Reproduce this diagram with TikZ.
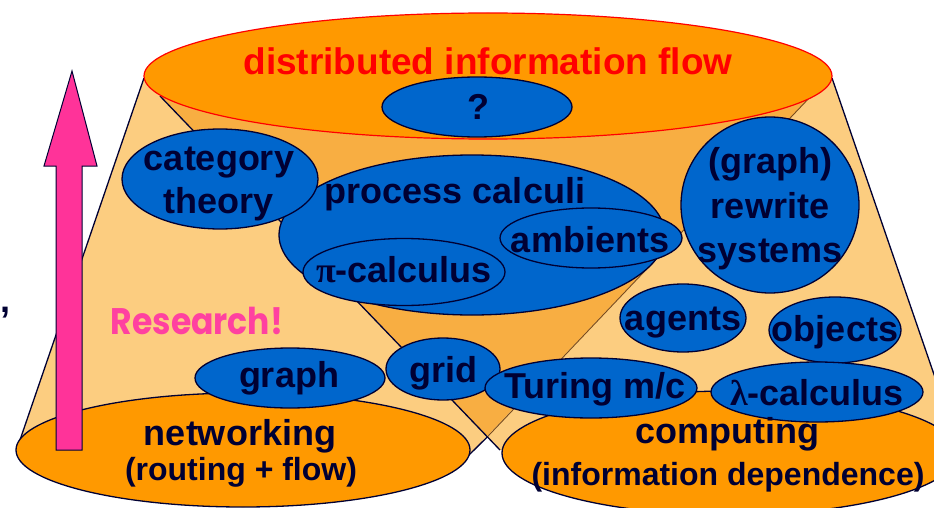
\documentclass[tikz,border=0pt]{standalone}
\usepackage{fontspec}
\setmainfont{Liberation Sans}
\newfontfamily\resfont{Poppins}
\newfontfamily\grkfont{Liberation Serif}
\usetikzlibrary{shapes.geometric}
\definecolor{navy}{RGB}{0,0,51}
\definecolor{myblue}{RGB}{0,102,204}
\definecolor{myorange}{RGB}{255,153,0}
\definecolor{conelight}{RGB}{252,205,128}
\definecolor{conedark}{RGB}{248,174,66}
\definecolor{faintedge}{RGB}{120,75,30}
\definecolor{mypink}{RGB}{255,51,153}
\definecolor{respink}{RGB}{255,65,160}
\tikzset{
  blob/.style={ellipse, draw=navy, line width=1.3pt, fill=myblue, inner sep=0pt, outer sep=0pt},
  base/.style={ellipse, draw=navy, line width=1.3pt, fill=myorange, inner sep=0pt, outer sep=0pt},
  coneedge/.style={draw=navy, line width=1.3pt},
  lbl/.style={anchor=base, text=navy, inner sep=0pt, font=\bfseries\fontsize{36}{40}\selectfont},
  sublbl/.style={anchor=base, text=navy, inner sep=0pt, font=\bfseries\fontsize{32}{36}\selectfont},
}
\begin{document}
\begin{tikzpicture}[x=1pt,y=-1pt]
\useasboundingbox (0,0) rectangle (934,508);
\clip (0,0) rectangle (934,508);
% cones
\fill[conelight] (144,78) -- (20,440) -- (243,450) -- (466,458) -- (812,95) -- (488,76) -- cycle;
\fill[conelight] (160,96) -- (500,450) -- (730,453) -- (960,450) -- (832,78) -- (488,76) -- cycle;
\begin{scope}
  \clip (144,78) -- (20,440) -- (243,450) -- (466,458) -- (812,95) -- (488,76) -- cycle;
  \fill[conedark] (160,96) -- (500,450) -- (730,453) -- (960,450) -- (832,78) -- (488,76) -- cycle;
\end{scope}
\coordinate (X) at (487.2,437);
\draw[coneedge] (144,78) -- (20,440);
\draw[faintedge, line width=0.9pt] (812,95) -- (X);
\draw[coneedge] (X) -- (466,458);
\draw[coneedge] (160,96) -- (500,450);
\draw[coneedge] (832,78) -- (960,450);
% top ellipse
\node[ellipse, draw=red, line width=1.2pt, fill=myorange, inner sep=0pt, minimum width=688pt, minimum height=126pt] (top) at (488,76) {};
% bottom ellipses
\node[base, minimum width=454pt, minimum height=114pt] (net) at (243,450) {};
\node[base, minimum width=456pt, minimum height=124pt] (comp) at (730,453) {};
% arrow
\draw[fill=mypink, draw=navy, line width=1pt] (56,450) -- (56,166) -- (44,166) -- (72,71) -- (97,166) -- (82,166) -- (82,450) -- cycle;
% blue ellipses
\node[blob, minimum width=386pt, minimum height=160pt] (proc) at (472,235) {};
\node[blob, minimum width=196pt, minimum height=100pt] (cat) at (220,179) {};
\node[blob, minimum width=202pt, minimum height=67pt] (pi) at (404,272) {};
\node[blob, minimum width=182pt, minimum height=60pt] (amb) at (591,238) {};
\node[blob, minimum width=178pt, minimum height=176pt] (grs) at (770,205) {};
\node[blob, minimum width=190pt, minimum height=60pt] (q) at (477,107) {};
\node[blob, minimum width=126pt, minimum height=68pt] (agents) at (683,318) {};
\node[blob, minimum width=132pt, minimum height=66pt] (objects) at (835,330) {};
\node[blob, minimum width=190pt, minimum height=60pt] (graph) at (290,378) {};
\node[blob, minimum width=114pt, minimum height=62pt] (grid) at (443,369) {};
\node[blob, minimum width=212pt, minimum height=60pt] (turing) at (591,388) {};
\node[blob, minimum width=212pt, minimum height=60pt] (lambda) at (817,392) {};
% texts
\node[lbl, text=red, font=\bfseries\fontsize{37}{40}\selectfont] (toptxt) at (488,75) {distributed information flow};
\node[lbl] (qtxt) at (478,120) {?};
\node[lbl] (cat1) at (219,170) {category};
\node[lbl] (cat2) at (219,213) {theory};
\node[lbl] (proctxt) at (455,203) {process calculi};
\node[lbl] (pitxt) at (404,282) {{\grkfont π}-calculus};
\node[lbl] (ambtxt) at (590,252) {ambients};
\node[lbl] (grs1) at (770,173) {(graph)};
\node[lbl] (grs2) at (770,218) {rewrite};
\node[lbl] (grs3) at (770,262) {systems};
\node[lbl] (agtxt) at (683,330) {agents};
\node[lbl] (objtxt) at (835,341) {objects};
\node[lbl] (turtxt) at (595,398) {Turing m/c};
\node[lbl] (lamtxt) at (817,405) {{\grkfont λ}-calculus};
\node[lbl] (graphtxt) at (289,387) {graph};
\node[lbl] (gridtxt) at (443,382) {grid};
\node[lbl] (net1) at (240,445) {networking};
\node[sublbl] (net2) at (241,480) {(routing + flow)};
\node[lbl] (comp1) at (727,443) {computing};
\node[sublbl] (comp2) at (728,485) {(information dependence)};
\node[anchor=base, inner sep=0pt, text=respink, font=\resfont\bfseries\fontsize{33}{36}\selectfont] (res) at (197,334) {\scalebox{1}[1.12]{Research!}};
\node[lbl] (comma) at (6,312) {,};
\end{tikzpicture}
\end{document}
